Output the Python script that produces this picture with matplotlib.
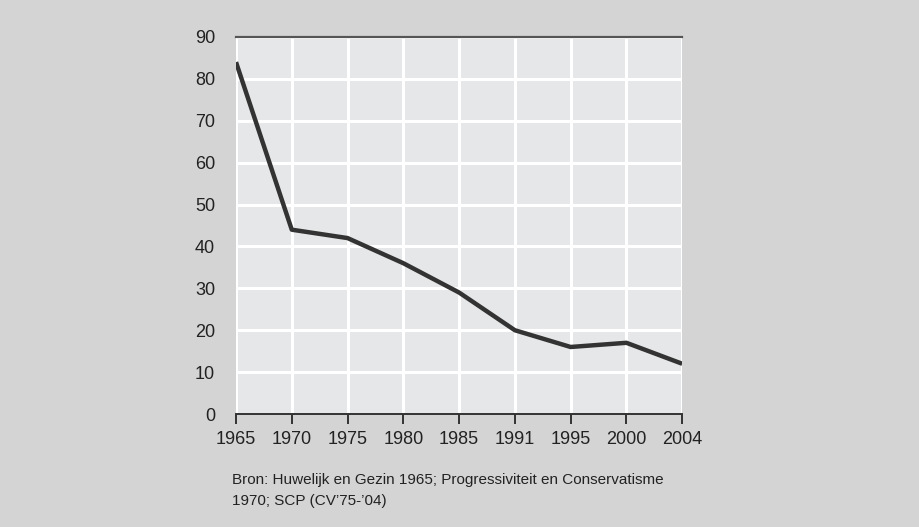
import matplotlib.pyplot as plt

# data
jaren = ["1965", "1970", "1975", "1980", "1985", "1991", "1995", "2000", "2004"]
waarden = [84, 44, 42, 36, 29, 20, 16, 17, 12]
y_ticks = [0, 10, 20, 30, 40, 50, 60, 70, 80, 90]
bron = "Bron: Huwelijk en Gezin 1965; Progressiviteit en Conservatisme\n1970; SCP (CV\u201975-\u201904)"

plt.rcParams["font.family"] = ["Liberation Sans", "DejaVu Sans"]

fig = plt.figure(figsize=(9.19, 5.27), dpi=100, facecolor="#d4d4d5")
ax = fig.add_axes([0.2568, 0.2144, 0.4855, 0.7154])
ax.set_facecolor("#e6e7e8")

x = list(range(len(jaren)))
ax.plot(x, waarden, color="#333333", linewidth=3.2, solid_capstyle="butt", zorder=3)

ax.set_xlim(0, len(jaren) - 1)
ax.set_ylim(0, 90)
ax.set_xticks(x)
ax.set_xticklabels(jaren, fontsize=13, color="#222222")
ax.set_yticks(y_ticks)
ax.set_yticklabels([str(v) for v in y_ticks], fontsize=13, color="#222222")

ax.grid(True, color="white", linewidth=2.2, zorder=1)
ax.set_axisbelow(True)

ax.tick_params(axis="y", length=0, pad=15)
ax.tick_params(axis="x", length=7, width=1.4, color="#333333", pad=5)

for s in ["left", "right"]:
    ax.spines[s].set_visible(False)
ax.spines["top"].set_color("#555555")
ax.spines["top"].set_linewidth(1.6)
ax.spines["bottom"].set_color("#333333")
ax.spines["bottom"].set_linewidth(1.4)

fig.text(232 / 919, 1 - 473 / 527, bron, fontsize=11, color="#222222",
         ha="left", va="top", linespacing=1.65)

fig.savefig("out.png", dpi=100, facecolor=fig.get_facecolor())
